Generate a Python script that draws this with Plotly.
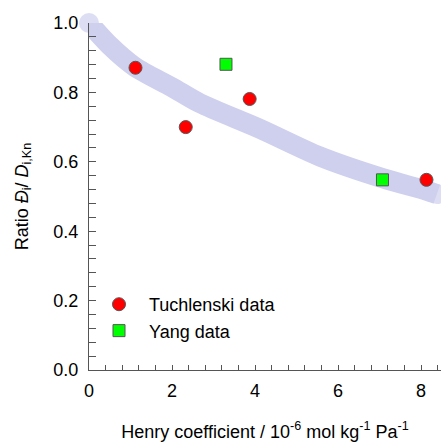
import plotly.graph_objects as go

# Data
tuch_x = [1.12, 2.33, 3.87, 8.13]
tuch_y = [0.871, 0.700, 0.781, 0.548]
yang_x = [3.30, 7.07]
yang_y = [0.881, 0.548]
curve_x = [0.0, 0.5, 1.1, 2.0, 2.67, 4.12, 5.57, 7.07, 8.13, 8.38]
curve_y = [1.0, 0.935, 0.874, 0.815, 0.769, 0.695, 0.615, 0.553, 0.517, 0.507]

band_color = "rgb(206,208,238)"
font_family = "Liberation Sans, Arial, sans-serif"

fig = go.Figure()
cap_sizes = [20] + [0] * (len(curve_x) - 2) + [20]
fig.add_trace(go.Scatter(
    x=curve_x, y=curve_y, mode="lines+markers",
    line=dict(color=band_color, width=20, shape="spline", smoothing=0.8),
    marker=dict(size=cap_sizes, color=band_color, line=dict(width=0)),
    showlegend=False, hoverinfo="skip", cliponaxis=False,
))
fig.add_trace(go.Scatter(
    x=tuch_x, y=tuch_y, mode="markers", name="Tuchlenski data",
    marker=dict(symbol="circle", size=13, color="#ff0000",
                line=dict(color="#555555", width=1)),
    cliponaxis=False,
))
fig.add_trace(go.Scatter(
    x=yang_x, y=yang_y, mode="markers", name="Yang data",
    marker=dict(symbol="square", size=12, color="#00ff00",
                line=dict(color="#555555", width=1)),
    cliponaxis=False,
))

axis_common = dict(
    showgrid=False, zeroline=False, showline=True, linecolor="#555555",
    linewidth=1, ticks="inside", tickcolor="#555555",
    tickfont=dict(family=font_family, size=18, color="#000000"),
    mirror=False,
)
fig.update_layout(
    width=441, height=442,
    margin=dict(l=89, r=0, t=23, b=72),
    paper_bgcolor="white", plot_bgcolor="white",
    font=dict(family=font_family, size=18, color="#000000"),
    xaxis=dict(
        range=[0, 8.48], dtick=2, tick0=0, ticklen=5, ticklabelstandoff=4,
        minor=dict(dtick=0.4, tick0=0, ticks="inside", ticklen=5, tickcolor="#555555"),
        title=dict(text="Henry coefficient / 10<sup>-6</sup> mol kg<sup>-1</sup> Pa<sup>-1</sup>",
                   font=dict(size=18), standoff=25),
        **axis_common,
    ),
    yaxis=dict(
        range=[0, 1.0], dtick=0.2, tick0=0, ticklen=7, tickformat=".1f",
        ticklabelstandoff=6,
        minor=dict(dtick=0.04, tick0=0, ticks="inside", ticklen=7, tickcolor="#555555"),
        title=dict(text="Ratio <i>Đ</i><sub>i</sub>/ <i>D</i><sub>i,Kn</sub>",
                   font=dict(size=18), standoff=20),
        **axis_common,
    ),
    legend=dict(
        x=0.0, y=0.242, xanchor="left", yanchor="top",
        bgcolor="rgba(0,0,0,0)", font=dict(size=18), itemwidth=50,
        tracegroupgap=0,
    ),
)

fig.write_html("out.html")
